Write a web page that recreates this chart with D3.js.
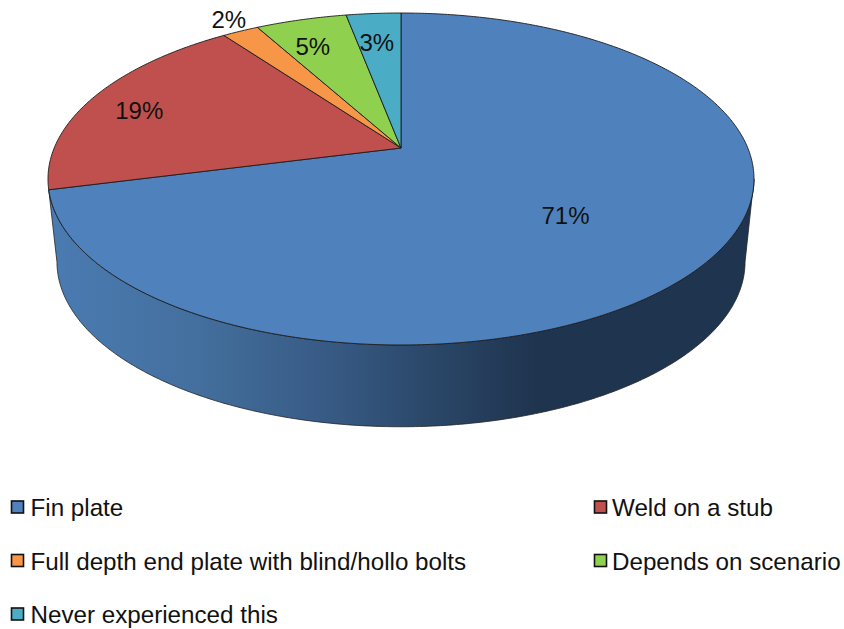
<!DOCTYPE html>
<html>
<head>
<meta charset="utf-8">
<script src="https://cdn.jsdelivr.net/npm/d3@7"></script>
<style>
html,body{margin:0;padding:0;background:#fff}
svg{display:block}
text{font-family:"Liberation Sans",Arial,sans-serif;fill:#111}
</style>
</head>
<body>
<svg id="chart" width="844" height="629"></svg>
<script>
const categories = ["Fin plate","Weld on a stub","Full depth end plate with blind/hollo bolts","Depends on scenario","Never experienced this"];
const shares = [71,19,2,5,3];
const colours = ["#4f81bd","#c0504d","#f79646","#8fd04e","#4bacc6"];

// label nudges from each slice's projected mid-radius point
const labelNudge = [[-44,-7],[-43,-1],[-55,-43],[-15,-8],[-4,-7]];

const W = 844, H = 629;
const svg = d3.select("#chart");

// Perspective view of the pie disc: the centre sits above the ellipse centre
const tilt = -0.1867;
const topPlane = {cx:401, cy:148, ax:346.8, ay:160.2};
const basePlane = {cx:401, cy:231, ax:338, ay:159.2};

function project(theta, rho, plane){
  const u = Math.sin(theta)*rho, v = -Math.cos(theta)*rho;
  const d = 1 + tilt*v;
  return [plane.cx + plane.ax*u/d, plane.cy + plane.ay*v/d];
}
function rim(a0, a1, plane){
  const n = Math.max(2, Math.ceil(Math.abs(a1-a0)/0.01));
  return d3.range(n+1).map(i => project(a0+(a1-a0)*i/n, 1, plane));
}
const line = d3.line();

const slices = d3.pie().sort(null).value(d=>d)(shares);

// Side wall of the front slice
const defs = svg.append("defs");
const grad = defs.append("linearGradient").attr("id","wall")
  .attr("gradientUnits","userSpaceOnUse").attr("x1",48).attr("x2",754).attr("y1",0).attr("y2",0);
[[0,"#4a7bb2"],[0.2,"#44709f"],[0.4,"#375a84"],[0.55,"#2a4667"],[0.69,"#1f344f"],[1,"#1f344e"]]
  .forEach(s=>grad.append("stop").attr("offset",s[0]).attr("stop-color",s[1]));

const extreme = Math.acos(tilt);           // angle of the silhouette on the right
const front = slices[0];
const wallPts = rim(extreme, front.endAngle, topPlane)
  .concat(rim(2*Math.PI-extreme, extreme, basePlane));
svg.append("path").attr("d", line(wallPts)+"Z")
  .attr("fill","url(#wall)").attr("stroke","#222").attr("stroke-width",0.8).attr("stroke-linejoin","round");

// Top faces
svg.append("g").selectAll("path").data(slices).join("path")
  .attr("d", d => line([[topPlane.cx,topPlane.cy]].concat(rim(d.startAngle,d.endAngle,topPlane)))+"Z")
  .attr("fill",(d,i)=>colours[i])
  .attr("stroke","#1c1c1c").attr("stroke-width",0.9).attr("stroke-linejoin","round");

// Percentage labels
svg.append("g").selectAll("text").data(slices).join("text")
  .attr("transform",(d,i)=>{
    const p = project((d.startAngle+d.endAngle)/2, 0.7, topPlane);
    return `translate(${p[0]+labelNudge[i][0]},${p[1]+labelNudge[i][1]})`;
  })
  .attr("text-anchor","middle").attr("dy","0.36em")
  .style("font-size","24px")
  .text(d=>d.data+"%");

// Legend in two columns
const colX = d3.scaleOrdinal().domain([0,1]).range([11,594]);
const rowY = d3.scalePoint().domain([0,1,2]).range([507.5,614.5]);
const items = svg.append("g").selectAll("g").data(categories).join("g")
  .attr("transform",(d,i)=>`translate(${colX(i%2)},${rowY(Math.floor(i/2))})`);
items.append("rect").attr("x",0.5).attr("y",-6.5).attr("width",12).attr("height",12)
  .attr("fill",(d,i)=>colours[i]).attr("stroke","#111").attr("stroke-width",1.6);
items.append("text").attr("x",(d,i)=>i%2?18:19.5).attr("dy","0.36em")
  .style("font-size","24.2px").text(d=>d);
</script>
</body>
</html>
